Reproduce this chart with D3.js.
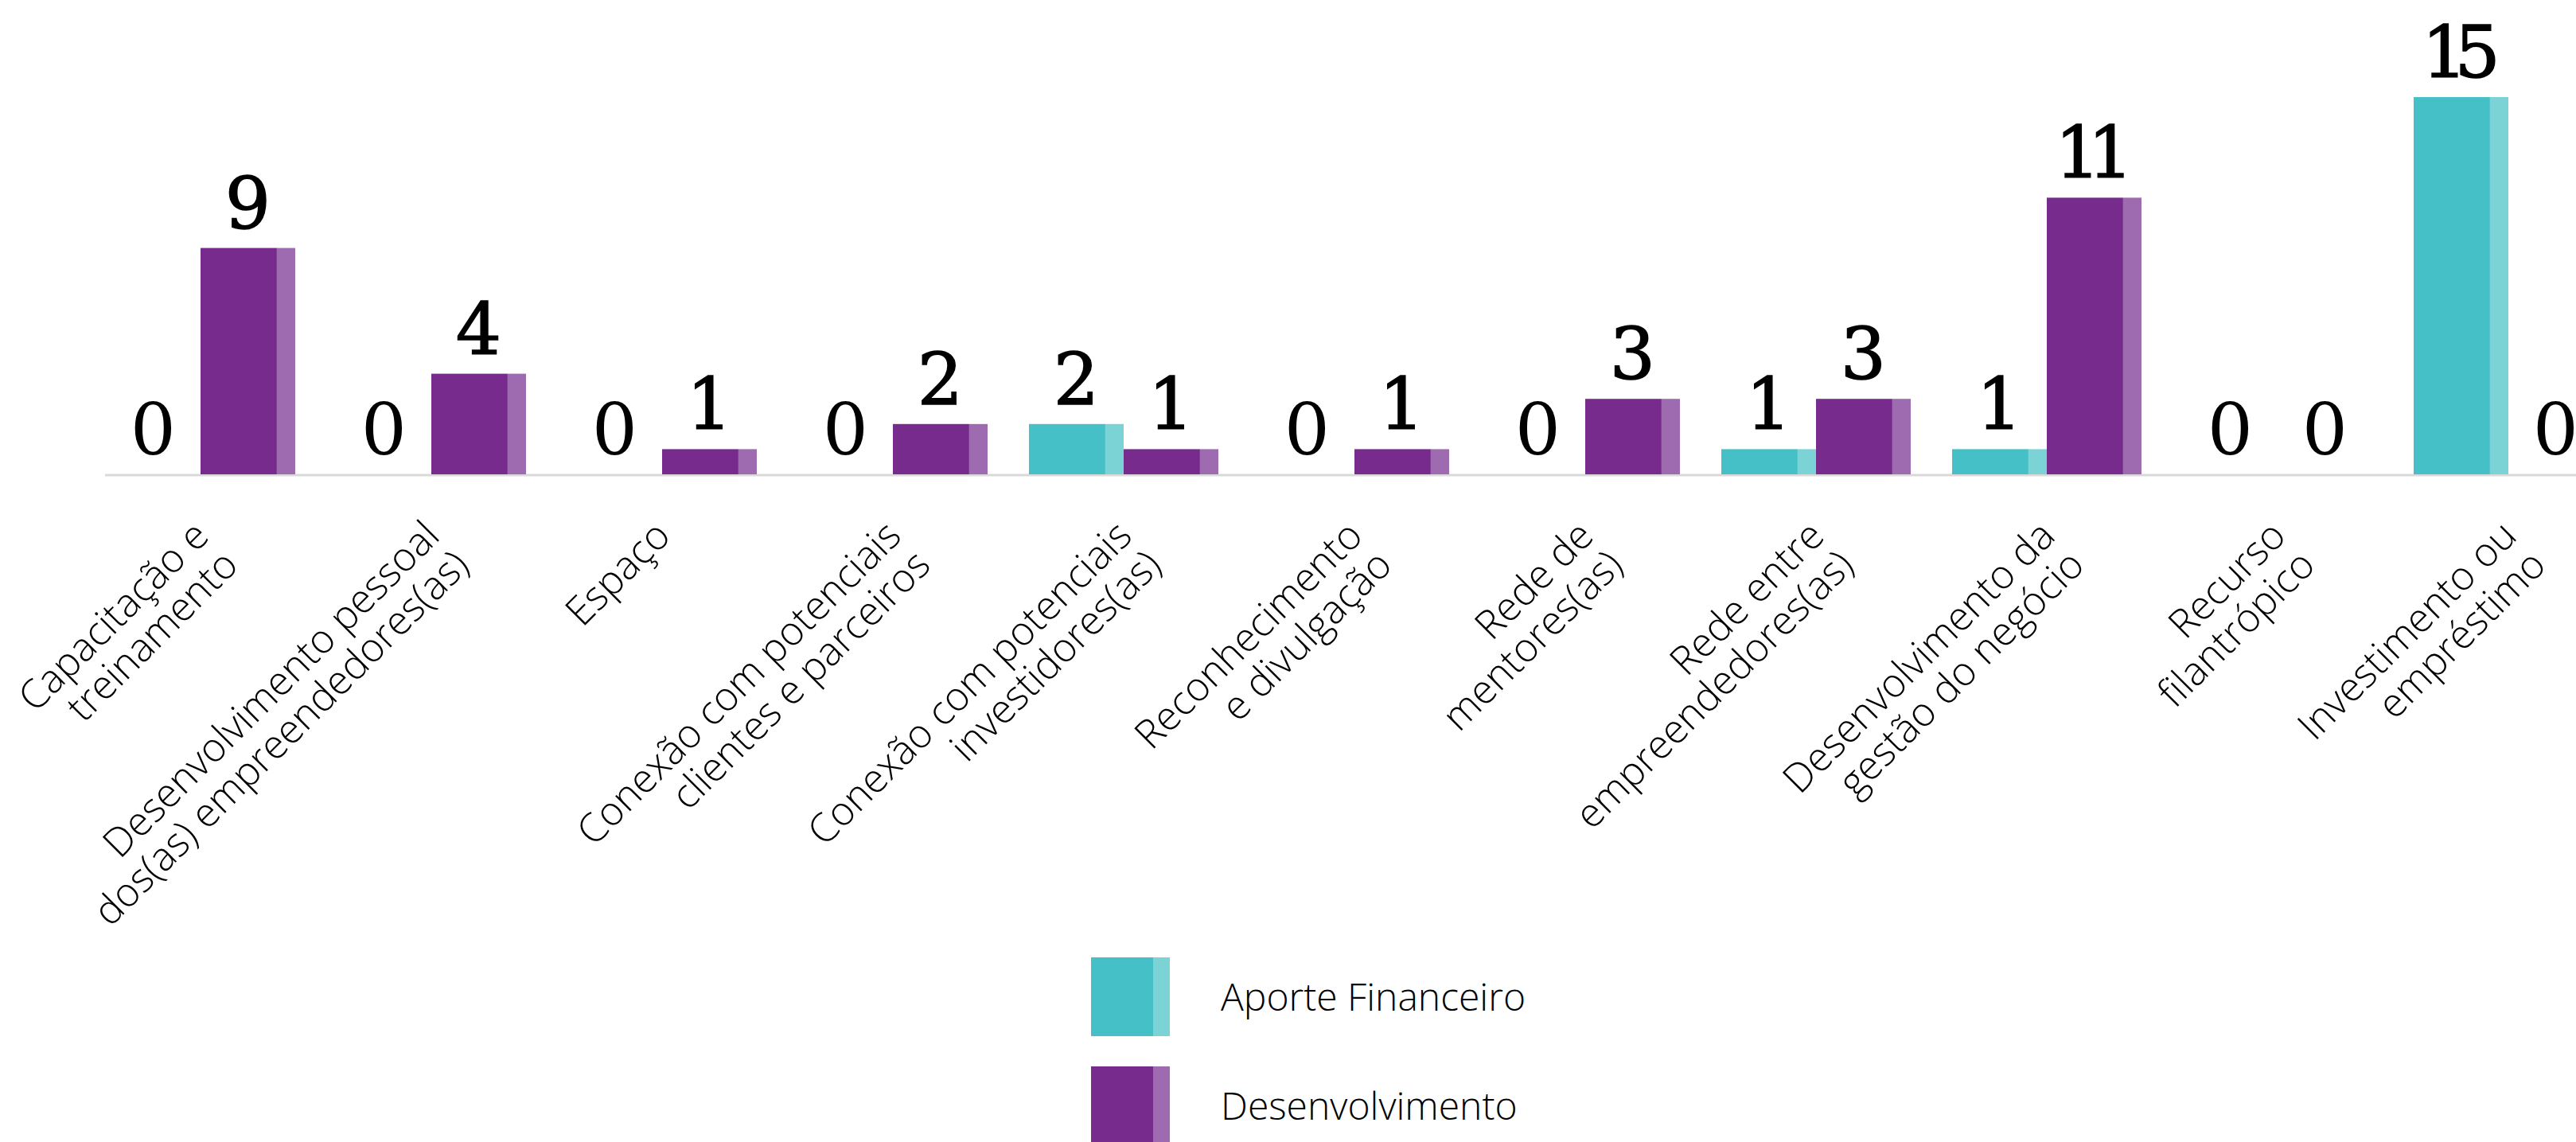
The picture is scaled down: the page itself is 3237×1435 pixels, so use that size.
<!DOCTYPE html>
<html>
<head>
<meta charset="utf-8">
<script src="https://cdn.jsdelivr.net/npm/d3@7"></script>
<style>
    html, body { margin: 0; padding: 0; background: #fff; overflow: hidden; }
    svg { display: block; }
</style>
</head>
<body>
<div id="chart"></div>
<script>
// categories (line breaks as in the original labels)
const categories = [
    "Capacitação e|treinamento",
    "Desenvolvimento pessoal|dos(as) empreendedores(as)",
    "Espaço",
    "Conexão com potenciais|clientes e parceiros",
    "Conexão com potenciais|investidores(as)",
    "Reconhecimento|e divulgação",
    "Rede de|mentores(as)",
    "Rede entre|empreendedores(as)",
    "Desenvolvimento da|gestão do negócio",
    "Recurso|filantrópico",
    "Investimento ou|empréstimo"
];
const seriesNames = ["Aporte Financeiro", "Desenvolvimento"];
const aporte = [0, 0, 0, 0, 2, 0, 0, 1, 1, 0, 15];
const desenvolvimento = [9, 4, 1, 2, 1, 1, 3, 3, 11, 0, 0];

const colors = {
    "Aporte Financeiro": ["#45c0c6", "#7cd3d6"],
    "Desenvolvimento": ["#772b8c", "#9e6bb0"]
};

let width = 3237, height = 1435;
let baseY = 596;

let svg = d3.select("#chart")
    .append("svg")
    .attr("width", width)
    .attr("height", height);

let pad = 52 / 290;
let x0 = d3.scaleBand()
    .domain(categories)
    .range([133, 133 + 290 * (categories.length - pad)])
    .paddingInner(pad)
    .paddingOuter(0);

let x1 = d3.scaleBand()
    .domain(seriesNames)
    .range([0, x0.bandwidth()]);

let y = d3.scaleLinear()
    .domain([0, 15])
    .range([baseY, 122]);

let rows = categories.map((c, i) => ({
    cat: c,
    values: [
        {key: seriesNames[0], value: aporte[i]},
        {key: seriesNames[1], value: desenvolvimento[i]}
    ]
}));

// axis line
svg.append("line")
    .attr("x1", x0.range()[0] - 1)
    .attr("x2", width)
    .attr("y1", baseY + 1)
    .attr("y2", baseY + 1)
    .attr("stroke", "#d9d9d9")
    .attr("stroke-width", 3);

let groups = svg.append("g")
    .selectAll("g")
    .data(rows)
    .enter().append("g")
    .attr("transform", d => "translate(" + x0(d.cat) + ",0)");

let bw = x1.bandwidth();
let darkW = bw * 0.806;

let cells = groups.selectAll("g")
    .data(d => d.values)
    .enter().append("g");

// main (dark) part of each bar
cells.append("rect")
    .attr("x", d => x1(d.key))
    .attr("y", d => y(d.value))
    .attr("width", darkW)
    .attr("height", d => baseY - y(d.value))
    .attr("fill", d => colors[d.key][0]);

// lighter side strip
cells.append("rect")
    .attr("x", d => x1(d.key) + darkW)
    .attr("y", d => y(d.value))
    .attr("width", bw - darkW)
    .attr("height", d => baseY - y(d.value))
    .attr("fill", d => colors[d.key][1]);

// value labels (two-digit numbers a bit tighter, like the original)
let tight = -16;
let isWide = d => String(d.value).length > 1;
cells.append("text")
    .attr("x", d => x1(d.key) + bw / 2 + (isWide(d) ? tight / 2 : 0))
    .attr("y", d => y(d.value) - 25)
    .attr("text-anchor", "middle")
    .style("font-family", "'DejaVu Serif', serif")
    .style("font-size", "90px")
    .style("letter-spacing", d => isWide(d) ? tight + "px" : "0px")
    .attr("fill", "#000")
    .attr("stroke", d => d.value ? "#000" : "none")
    .attr("stroke-width", 1.5)
    .text(d => d.value);

// category labels, rotated
let labels = svg.append("g")
    .selectAll("text")
    .data(categories)
    .enter().append("text")
    .attr("transform", d => "translate(" + (x0(d) + x0.bandwidth() / 2 + 13) + "," + (baseY + 80) + ") rotate(-45)")
    .attr("text-anchor", "end")
    .style("font-family", "'Open Sans', sans-serif")
    .style("font-weight", 300)
    .style("font-size", "50px")
    .attr("fill", "#000");

labels.selectAll("tspan")
    .data(d => d.split("|"))
    .enter().append("tspan")
    .attr("x", 0)
    .attr("y", (d, i) => i * 52)
    .text(d => d);

// legend
let legend = svg.append("g")
    .attr("transform", "translate(1371,1203)");

let item = legend.selectAll("g")
    .data(seriesNames)
    .enter().append("g")
    .attr("transform", (d, i) => "translate(0," + i * 137 + ")");

item.append("rect")
    .attr("width", 78)
    .attr("height", 99)
    .attr("fill", d => colors[d][0]);

item.append("rect")
    .attr("x", 78)
    .attr("width", 21)
    .attr("height", 99)
    .attr("fill", d => colors[d][1]);

item.append("text")
    .attr("x", 163)
    .attr("y", 49.5 + 17)
    .style("font-family", "'Open Sans', sans-serif")
    .style("font-weight", 300)
    .style("font-size", "48px")
    .attr("fill", "#000")
    .text(d => d);
</script>
</body>
</html>
